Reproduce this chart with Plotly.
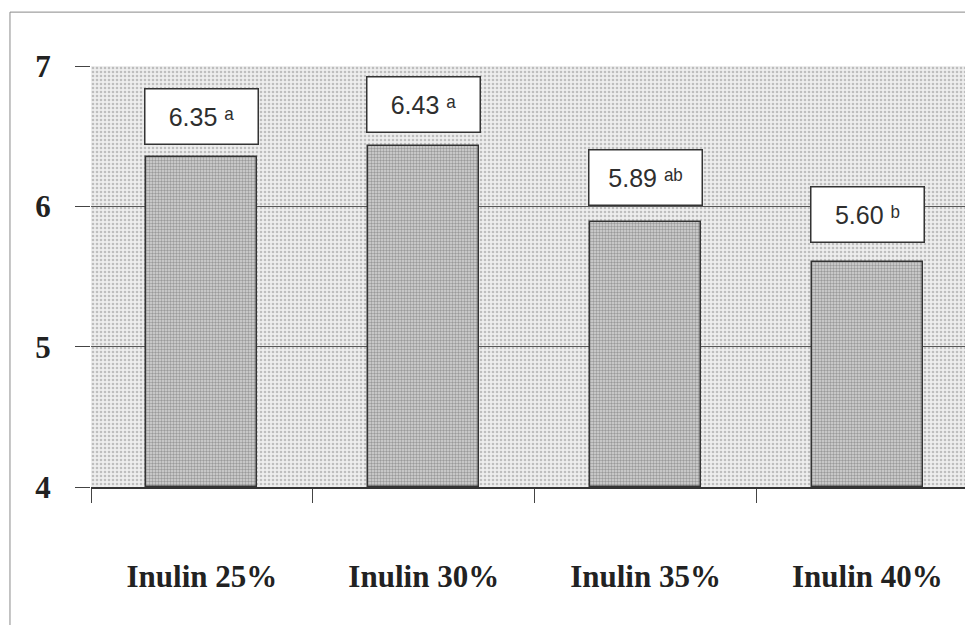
import plotly.graph_objects as go

# Sensory scores by inulin level
categories = ["Inulin 25%", "Inulin 30%", "Inulin 35%", "Inulin 40%"]
scores = [6.35, 6.43, 5.89, 5.60]
letters = ["ᵃ", "ᵃ", "ᵃᵇ", "ᵇ"]  # significance groups (superscript letters)
y_ticks = [4, 5, 6, 7]

# vertical gap (px) between each bar top and its value box
label_gaps = [12, 13, 16, 19]

Y_MIN, Y_MAX = 4, 7
SERIF = "Liberation Serif, Times New Roman, serif"
SANS = "Liberation Sans, Arial, DejaVu Sans, sans-serif"

fig = go.Figure()

# dotted halftone backdrop of the plotting area (hidden base axis)
fig.add_trace(go.Bar(
    x=[0.5], y=[Y_MAX - Y_MIN], base=[Y_MIN], width=[1],
    xaxis="x", yaxis="y",
    marker=dict(
        color="rgba(0,0,0,0)",
        line=dict(width=0),
        pattern=dict(shape=".", fgcolor="#8e8e8e", bgcolor="rgba(0,0,0,0)",
                     size=4, solidity=0.35),
    ),
    hoverinfo="skip", showlegend=False,
))

# score bars
fig.add_trace(go.Bar(
    x=categories, y=[v - Y_MIN for v in scores], base=Y_MIN,
    xaxis="x2", yaxis="y", width=0.5,
    marker=dict(
        color="#cfcfcf",
        line=dict(color="#333333", width=1.5),
        pattern=dict(shape=".", fgcolor="#5e5e5e", bgcolor="#d6d6d6",
                     size=3, solidity=0.5),
    ),
    showlegend=False,
))

for cat, v, lab, gap in zip(categories, scores, letters, label_gaps):
    fig.add_annotation(
        x=cat, xref="x2", y=v, yref="y", yanchor="bottom", yshift=gap,
        text=f"{v:.2f} {lab}", showarrow=False,
        bgcolor="white", bordercolor="#333333", borderwidth=1.5, borderpad=2,
        width=108, height=50,
        font=dict(family=SANS, size=25, color="#2e2e2e"),
    )

# thin outer frame of the chart
fig.add_shape(type="rect", xref="paper", yref="paper",
              x0=-0.0927, x1=1.05, y0=-0.45, y1=1.128,
              line=dict(color="#8a8a8a", width=1))

fig.update_layout(
    width=965, height=625,
    margin=dict(l=91, r=0, t=66, b=138),
    paper_bgcolor="white",
    plot_bgcolor="#eeeeee",
    bargap=0,
    xaxis=dict(domain=[0, 1], range=[0, 1], visible=False, fixedrange=True),
    xaxis2=dict(
        overlaying="x", anchor="y", type="category",
        range=[-0.5, 3.44],
        tickson="boundaries", ticks="outside", ticklen=14, tickwidth=1,
        tickcolor="#444444",
        showline=True, linecolor="#333333", linewidth=1.5,
        showgrid=False,
        tickfont=dict(family=SERIF, size=31, color="#222222", weight="bold"),
        ticklabelstandoff=61,
    ),
    yaxis=dict(
        range=[Y_MIN, Y_MAX], tickvals=y_ticks,
        ticks="outside", ticklen=15, tickcolor="#444444",
        showgrid=True, gridcolor="#555555", gridwidth=1,
        zeroline=False, showline=False,
        tickfont=dict(family=SERIF, size=31, color="#222222", weight="bold"),
        ticklabelstandoff=18,
    ),
)

fig.write_html("out.html")
